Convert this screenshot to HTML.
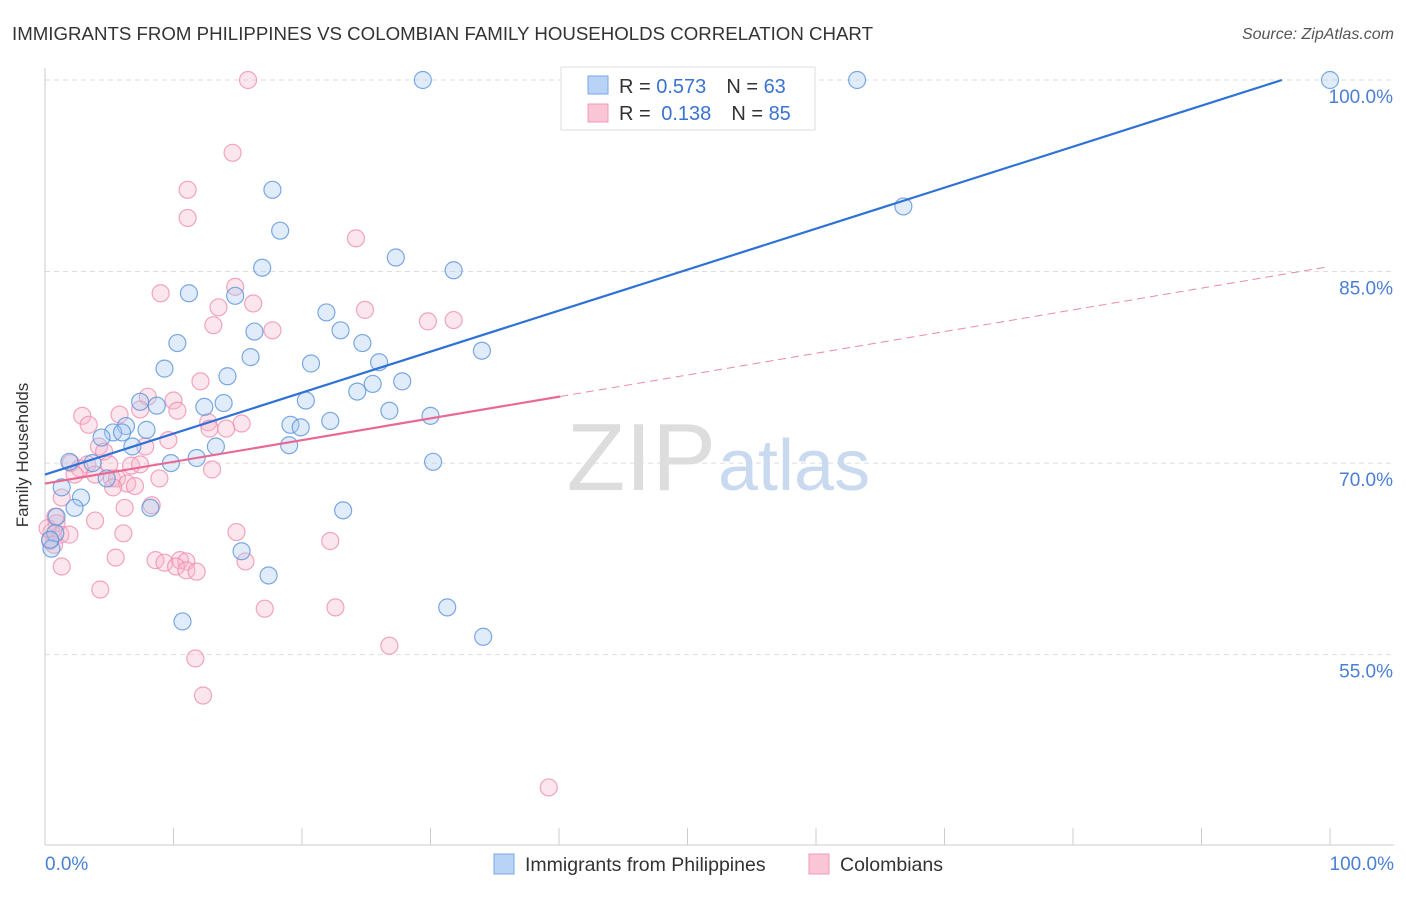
<!DOCTYPE html>
<html><head><meta charset="utf-8"><style>
body{margin:0;background:#fff;font-family:"Liberation Sans",sans-serif;}
svg text{font-family:"Liberation Sans",sans-serif;}
</style></head><body>
<svg id="chart" width="1406" height="892" viewBox="0 0 1406 892" xmlns="http://www.w3.org/2000/svg">
<text x="12" y="40" font-size="18" fill="#333" textLength="861" lengthAdjust="spacingAndGlyphs">IMMIGRANTS FROM PHILIPPINES VS COLOMBIAN FAMILY HOUSEHOLDS CORRELATION CHART</text>
<text x="1394" y="39" font-size="16" fill="#555" font-style="italic" text-anchor="end">Source: ZipAtlas.com</text>
<g id="grid"></g>
<text x="716" y="490" font-size="96" fill="#ddd" text-anchor="end" font-family="Liberation Serif">ZIP</text>
<text x="718" y="490" font-size="72" fill="#c9daf0">atlas</text>
<g id="axes"></g>
<g id="pts"></g>
<g id="trends"></g>
<text x="28" y="455" font-size="17" fill="#333" transform="rotate(-90 28 455)" text-anchor="middle">Family Households</text>
<text x="45" y="870" font-size="19" fill="#4a7fd4">0.0%</text>
<text x="1394" y="870" font-size="19" fill="#4a7fd4" text-anchor="end">100.0%</text>
<g>
<rect x="561" y="67" width="254" height="63" fill="#fff" stroke="#ddd"/>
<rect x="588" y="76" width="20" height="18" fill="#b8d3f5" stroke="#7aaae6"/>
<rect x="588" y="104" width="20" height="18" fill="#fac6d6" stroke="#f09ab5"/>
<text x="619" y="93" font-size="20" fill="#333">R = <tspan fill="#3a73d0">0.573</tspan><tspan dx="20">N = </tspan><tspan fill="#3a73d0">63</tspan></text>
<text x="619" y="120" font-size="20" fill="#333">R = <tspan fill="#3a73d0" dx="5">0.138</tspan><tspan dx="20">N = </tspan><tspan fill="#3a73d0">85</tspan></text>
</g>
<g>
<rect x="494" y="854" width="20" height="20" fill="#b8d3f5" stroke="#7aaae6"/>
<text x="525" y="871" font-size="19.5" fill="#333">Immigrants from Philippines</text>
<rect x="809" y="854" width="20" height="20" fill="#fac6d6" stroke="#f09ab5"/>
<text x="840" y="871" font-size="19.5" fill="#333">Colombians</text>
</g>
</svg>
<script>
const yTicks=[100,85,70,55];
const yTickLabels=["100.0%","85.0%","70.0%","55.0%"];
const xTicks=[0,10,20,30,40,50,60,70,80,90,100];
const blueX=[29.4,63.2,100,66.8,17.7,18.3,16.9,27.3,31.8,11.2,14.8,21.9,16.3,23.0,24.7,10.3,16.0,26.0,34.0,20.7,9.3,14.2,27.8,25.5,24.3,7.4,8.7,13.9,12.4,26.8,30.0,20.3,22.2,19.1,19.9,6.3,5.3,6.0,7.9,4.4,6.8,13.3,19.0,11.8,9.8,1.9,3.7,30.2,4.8,1.3,2.8,2.3,8.2,0.9,23.2,0.8,0.5,15.3,17.4,31.3,10.7,34.1,0.4];
const blueY=[100,100,100,90.1,91.4,88.2,85.3,86.1,85.1,83.3,83.1,81.8,80.3,80.4,79.4,79.4,78.3,77.9,78.8,77.8,77.4,76.8,76.4,76.2,75.6,74.8,74.5,74.7,74.4,74.1,73.7,74.9,73.3,73.0,72.8,72.9,72.4,72.4,72.6,72.0,71.3,71.3,71.4,70.4,70.0,70.1,70.0,70.1,68.8,68.1,67.3,66.5,66.5,65.8,66.3,64.5,63.3,63.1,61.2,58.7,57.6,56.4,64.0];
const pinkX=[15.8,14.6,11.1,11.1,24.2,14.8,9.0,24.9,16.2,13.5,13.1,29.8,31.8,17.7,12.1,8.0,10.0,10.3,7.4,5.8,2.9,3.4,12.7,12.8,15.3,14.1,9.6,7.8,4.2,4.6,2.0,3.3,6.7,2.7,5.0,2.3,3.9,5.2,7.4,8.9,13.0,5.6,6.4,5.3,7.0,1.3,8.3,6.2,3.9,0.9,0.5,1.2,1.9,0.4,0.7,6.1,14.9,22.2,1.3,5.5,8.6,9.3,10.5,11.0,10.2,11.0,11.8,15.6,4.3,17.1,22.6,26.8,11.7,12.3,39.2,0.8,0.2];
const pinkY=[100,94.3,91.4,89.2,87.6,83.8,83.3,82.0,82.5,82.2,80.8,81.1,81.2,80.4,76.4,75.2,74.9,74.1,74.2,73.8,73.7,73.0,73.2,72.7,73.1,72.7,71.8,71.3,71.3,70.9,70.0,69.9,69.8,69.6,69.9,69.1,69.1,68.8,69.9,68.8,69.5,68.8,68.4,68.1,68.2,67.3,66.7,66.5,65.5,65.3,64.6,64.4,64.4,63.9,63.6,64.5,64.6,63.9,61.9,62.6,62.4,62.2,62.4,62.3,61.9,61.6,61.5,62.3,60.1,58.6,58.7,55.7,54.7,51.8,44.6,65.8,64.9];
const blueTrend=[69.1,0.321];
const pinkTrend=[68.4,0.17];
const NS="http://www.w3.org/2000/svg";
const X=v=>45+v*12.85, Y=v=>80+(100-v)*12.77;
function mk(t,a,p){const e=document.createElementNS(NS,t);for(const k in a)e.setAttribute(k,a[k]);p.appendChild(e);return e;}
const grid=document.getElementById('grid'),axes=document.getElementById('axes'),pts=document.getElementById('pts'),tr=document.getElementById('trends');
yTicks.forEach((v,i)=>{
 const l=mk('line',{x1:45,x2:1394,y1:Y(v),y2:Y(v),stroke:'#ddd','stroke-dasharray':'5,4'},grid);
 
 
 const t=mk('text',{x:1393,y:Y(v)+23,'font-size':19,fill:'#4a7fd4','text-anchor':'end'},grid);
 t.textContent=yTickLabels[i];
 
 
});
mk('line',{x1:45,x2:45,y1:68,y2:845,stroke:'#ccc'},axes);
mk('line',{x1:45,x2:1394,y1:845,y2:845,stroke:'#ccc'},axes);
xTicks.forEach(v=>{const l=mk('line',{x1:X(v),x2:X(v),y1:828,y2:845,stroke:'#ccc'},axes);
 
 });
function dots(xs,ys,fill,stroke){xs.forEach((x,i)=>{const c=mk('circle',{cx:X(x),cy:Y(ys[i]),r:8.5,fill:fill,'fill-opacity':0.35,stroke:stroke,'stroke-width':1.2,'stroke-opacity':0.8},pts);
 
 });}
dots(pinkX,pinkY,'#f7b6ca','#ef8fb0');
dots(blueX,blueY,'#a9c8f0','#5b93dc');
const bx=(100-blueTrend[0])/blueTrend[1];
const b=mk('line',{x1:X(0),y1:Y(blueTrend[0]),x2:X(bx),y2:Y(100),stroke:'#2f72d6','stroke-width':2.2},tr);

const p1=mk('line',{x1:X(0),y1:Y(pinkTrend[0]),x2:X(40.1),y2:Y(pinkTrend[0]+40.1*pinkTrend[1]),stroke:'#e86a94','stroke-width':2.2},tr);

const p2=mk('line',{x1:X(40.1),y1:Y(pinkTrend[0]+40.1*pinkTrend[1]),x2:X(99.6),y2:Y(pinkTrend[0]+99.6*pinkTrend[1]),stroke:'#e98aa9','stroke-width':1,'stroke-dasharray':'8,5'},tr);

</script>
</body></html>
